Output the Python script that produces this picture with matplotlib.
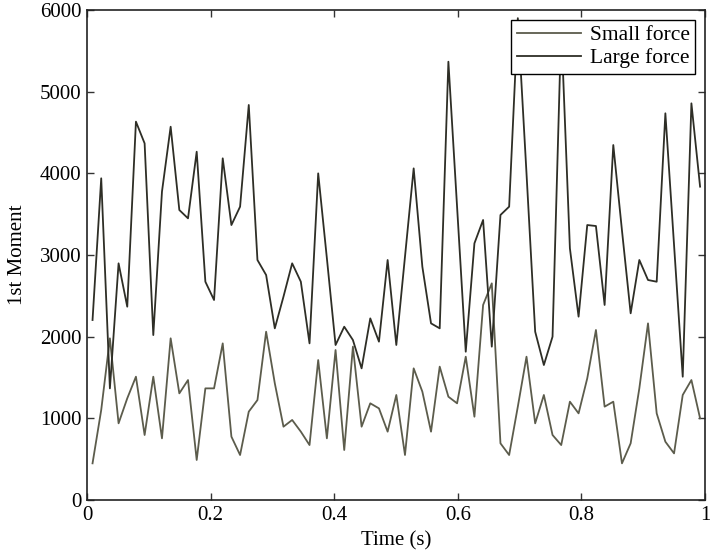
import matplotlib.pyplot as plt
import numpy as np

plt.rcParams['font.family'] = ['Liberation Serif', 'DejaVu Serif']

# time samples (71 evenly spaced points)
time = np.linspace(0.009, 0.992, 71)

small_force = [449, 1102, 1980, 939, 1245, 1510, 796, 1510, 755, 1980,
               1306, 1469, 490, 1367, 1367, 1918, 776, 551, 1082, 1224,
               2061, 1429, 898, 980, 837, 673, 1714, 755, 1837, 612,
               1878, 898, 1184, 1122, 837, 1286, 551, 1612, 1327, 837,
               1633, 1265, 1184, 1755, 1020, 2388, 2653, 694, 551, 1143,
               1755, 939, 1286, 796, 673, 1204, 1061, 1490, 2082, 1143,
               1204, 449, 694, 1367, 2163, 1061, 714, 571, 1286, 1469,
               1000]

large_force = [2204, 3939, 1367, 2898, 2367, 4633, 4367, 2020, 3776, 4571,
               3551, 3449, 4265, 2673, 2449, 4184, 3367, 3592, 4837, 2939,
               2755, 2102, 2490, 2898, 2673, 1918, 4000, 2960, 1898, 2122,
               1959, 1612, 2224, 1939, 2939, 1898, 2980, 4061, 2857, 2163,
               2102, 5367, 3592, 1816, 3143, 3429, 1878, 3490, 3592, 5900,
               4000, 2061, 1653, 2000, 5800, 3082, 2245, 3367, 3355, 2388,
               4347, 3300, 2286, 2939, 2694, 2673, 4735, 3122, 1510, 4857,
               3837]

fig = plt.figure(figsize=(7.1, 5.56), dpi=100)
ax = fig.add_axes([0.1225, 0.1007, 0.8705, 0.8813])

ax.plot(time, small_force, color='#5c5c4c', lw=1.3, label='Small force')
ax.plot(time, large_force, color='#2e2e26', lw=1.3, label='Large force')

ax.set_xlim(0, 1)
ax.set_ylim(0, 6000)
ax.set_xticks([0, 0.2, 0.4, 0.6, 0.8, 1])
ax.set_xticklabels(['0', '0.2', '0.4', '0.6', '0.8', '1'])
ax.set_yticks(range(0, 6001, 1000))
ax.tick_params(direction='in', top=True, right=True, length=5, labelsize=15,
               width=1, color='#333333', pad=4)
for s in ax.spines.values():
    s.set_linewidth(1.2)
    s.set_color('#222222')

ax.set_xlabel('Time (s)', fontsize=15, labelpad=5)
ax.set_ylabel('1st Moment', fontsize=15, labelpad=9)

leg = ax.legend(loc='upper right', fontsize=15.5, handlelength=3,
                fancybox=False, framealpha=1, edgecolor='black',
                borderaxespad=0.45, borderpad=0.25, labelspacing=0.15,
                handletextpad=0.4)
leg.get_frame().set_linewidth(1.0)

fig.savefig('out.png', dpi=100)
